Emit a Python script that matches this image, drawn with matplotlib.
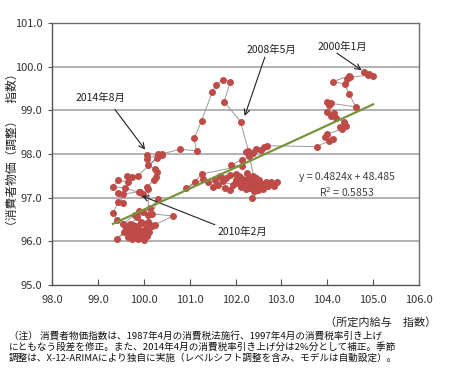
import matplotlib
matplotlib.use("Agg")
import matplotlib.pyplot as plt
import numpy as np

plt.rcParams['font.family'] = ['Noto Sans CJK JP', 'DejaVu Sans']

# 所定内給与 指数 (x) and 消費者物価(調整) 指数 (y), monthly from 2000年1月 to 2014年8月 (approx.)
wage = [
    104.80, 104.92, 105.00, 104.88, 104.50, 104.43, 104.47, 104.13, 104.38, 104.48,
    104.62, 104.08, 104.00, 104.04, 104.00, 104.14, 104.08, 104.20, 104.36, 104.40,
    104.28, 104.33, 104.00, 104.12, 103.95, 104.04, 103.77,
    102.68, 102.55, 102.14, 101.91, 102.14, 101.26, 101.12, 100.93, 101.30,
    101.40, 101.50, 101.66, 101.72, 101.80, 101.88, 101.62, 101.78, 101.88, 102.02,
    102.10, 102.14, 102.24, 102.30, 102.38, 102.45, 102.52, 102.05, 102.18, 102.28,
    102.36, 102.44, 102.50, 102.58, 102.66, 102.78, 102.90, 102.84, 102.70, 102.60,
    102.35, 102.40, 102.22, 102.12, 102.30, 102.48, 102.20, 102.00, 101.95, 101.55,
    101.70, 102.08, 102.26, 102.42,
    102.30, 102.22, 102.45, 102.62, 102.38, 102.28,
    102.11, 101.75, 101.89, 101.73, 101.57, 101.49, 101.26, 101.10, 101.15, 100.80, 100.39,
    99.87, 99.75, 99.63, 99.65, 99.44, 99.33, 99.60, 99.90,
    99.98, 99.92, 99.55, 99.44, 99.55, 99.44, 99.33, 99.41, 99.70, 100.14,
    100.32, 100.18, 100.64, 100.24, 99.98, 99.90, 99.85, 99.80,
    99.55, 99.62, 99.58, 99.70, 99.78, 99.85, 99.92, 99.96, 100.05, 100.12,
    100.02, 99.95, 99.88, 99.80, 99.74, 99.66, 99.72, 99.82, 99.90, 100.00,
    100.08, 100.18, 99.98, 99.86, 99.76, 99.41, 99.95, 100.10,
    100.10, 100.10, 100.06, 100.22, 100.26, 100.28, 100.24, 100.10, 100.28, 100.39,
    100.30, 100.08, 100.06,
]
cpi = [
    99.88, 99.84, 99.79, 99.80, 99.76, 99.71, 99.79, 99.66, 99.60, 99.37,
    99.08, 99.16, 99.18, 99.12, 98.96, 98.93, 98.86, 98.83, 98.73, 98.64,
    98.62, 98.57, 98.46, 98.34, 98.39, 98.30, 98.17,
    98.19, 98.10, 97.87, 97.75, 97.73, 97.54, 97.37, 97.22, 97.42,
    97.36, 97.25, 97.50, 97.38, 97.44, 97.52, 97.30, 97.22, 97.18, 97.55,
    97.48, 97.42, 97.56, 97.46, 97.50, 97.44, 97.40, 97.33, 97.30, 97.36,
    97.28, 97.33, 97.25, 97.32, 97.36, 97.35, 97.36, 97.26, 97.26, 97.20,
    96.99, 97.15, 97.20, 97.24, 97.22, 97.18, 97.38, 97.40, 97.30, 97.40,
    97.45, 97.50, 97.43, 97.38,
    97.95, 98.04, 98.12, 98.16, 98.02, 98.08,
    98.74, 99.20, 99.66, 99.70, 99.58, 99.41, 98.76, 98.36, 98.07, 98.11, 98.00,
    97.50, 97.48, 97.49, 97.36, 97.40, 97.25, 97.22, 97.12,
    97.08, 97.14, 97.08, 97.10, 96.88, 96.90, 96.65, 96.50, 96.40, 96.77,
    96.97, 96.63, 96.58, 96.38, 96.68, 96.70, 96.56, 96.60,
    96.40, 96.30, 96.22, 96.18, 96.28, 96.35, 96.25, 96.42, 96.30, 96.22,
    96.15, 96.10, 96.05, 96.12, 96.05, 96.10, 96.25, 96.20, 96.16, 96.02,
    96.12, 96.35, 96.22, 96.30, 96.38, 96.06, 96.45, 96.45,
    96.60, 97.20, 97.24, 97.40, 97.48, 97.58, 97.66, 97.75, 97.90, 97.97,
    98.00, 97.88, 97.98,
]

slope = 0.4824
intercept = 48.485
r2 = 0.5853

x_ticks = [98.0, 99.0, 100.0, 101.0, 102.0, 103.0, 104.0, 105.0, 106.0]
y_ticks = [95.0, 96.0, 97.0, 98.0, 99.0, 100.0, 101.0]

annotation_labels = ["2000年1月", "2008年5月", "2014年8月", "2010年2月"]

fig = plt.figure(figsize=(4.5, 3.92), dpi=100)
ax = fig.add_axes([52/450, 1-285/392, (419-52)/450, (285-23)/392])

ax.set_xlim(98, 106)
ax.set_ylim(95, 101)
ax.set_xticks(x_ticks)
ax.set_yticks(y_ticks)
ax.set_xticklabels([f"{v:.1f}" for v in x_ticks], fontsize=8, color='#333333')
ax.set_yticklabels([f"{v:.1f}" for v in y_ticks], fontsize=8, color='#333333')
ax.tick_params(axis='x', direction='in', length=4, pad=7, color='#555555')
ax.tick_params(axis='y', direction='out', length=3, pad=4, color='#555555')

for v in y_ticks[1:-1]:
    ax.axhline(v, color='#A6A6A6', lw=1.2, zorder=0)
for s in ['top', 'right']:
    ax.spines[s].set_color('#6E6E6E')
    ax.spines[s].set_linewidth(1.0)
for s in ['left', 'bottom']:
    ax.spines[s].set_color('#555555')
    ax.spines[s].set_linewidth(1.0)

ax.plot(wage, cpi, color='#9A9A9A', lw=0.7, zorder=2)
ax.plot(wage, cpi, linestyle='none', marker='o', ms=4.0, mfc='#BE4B48',
        mec='#BE4B48', zorder=3)

xr = np.array([min(wage), max(wage)])
ax.plot(xr, slope * xr + intercept, color='#77933C', lw=1.6, zorder=4)

ax.text(104.43, 97.48, f"y = {slope}x + {intercept}", fontsize=7.5,
        ha='center', va='center', color='#404040')
ax.text(104.43, 97.13, f"R$^2$ = {r2}", fontsize=7.5,
        ha='center', va='center', color='#404040')

# annotation text placement, arrow tail and arrow head (data coords)
txt_pos = {
    "2000年1月": (104.34, 100.45),
    "2008年5月": (102.79, 100.38),
    "2014年8月": (99.05, 99.28),
    "2010年2月": (102.16, 96.22),
}
arrow_tail = {
    "2000年1月": (104.21, 100.31),
    "2008年5月": (102.64, 100.22),
    "2014年8月": (99.37, 99.02),
    "2010年2月": (101.55, 96.38),
}
arrow_head = {
    "2000年1月": (104.75, 99.92),
    "2008年5月": (102.20, 98.87),
    "2014年8月": (100.03, 98.10),
    "2010年2月": (99.96, 97.04),
}
for label in annotation_labels:
    tx, ty = txt_pos[label]
    ax.text(tx, ty, label, fontsize=7.5, ha='center', va='center', color='#222222')
    ax.annotate('', xy=arrow_head[label], xytext=arrow_tail[label],
                arrowprops=dict(arrowstyle='->', color='#222222', lw=0.8,
                                mutation_scale=10, shrinkA=0, shrinkB=0))

fig.text(12/450, 1-150/392, "（消費者物価（調整）　指数）", rotation=90,
         fontsize=8.5, ha='center', va='center', color='#222222')
fig.text(436/450, 1-322/392, "（所定内給与　指数）", fontsize=8,
         ha='right', va='center', color='#222222')

notes = [
    "（注） 消費者物価指数は、1987年4月の消費税法施行、1997年4月の消費税率引き上げ",
    "にともなう段差を修正。また、2014年4月の消費税率引き上げ分は2%分として補正。季節",
    "調整は、X-12-ARIMAにより独自に実施（レベルシフト調整を含み、モデルは自動設定）。",
]
for i, line in enumerate(notes):
    fig.text(9/450, 1-(336 + i*11)/392, line, fontsize=6.9, ha='left',
             va='center', color='#111111')

fig.savefig("out.png", dpi=100)
